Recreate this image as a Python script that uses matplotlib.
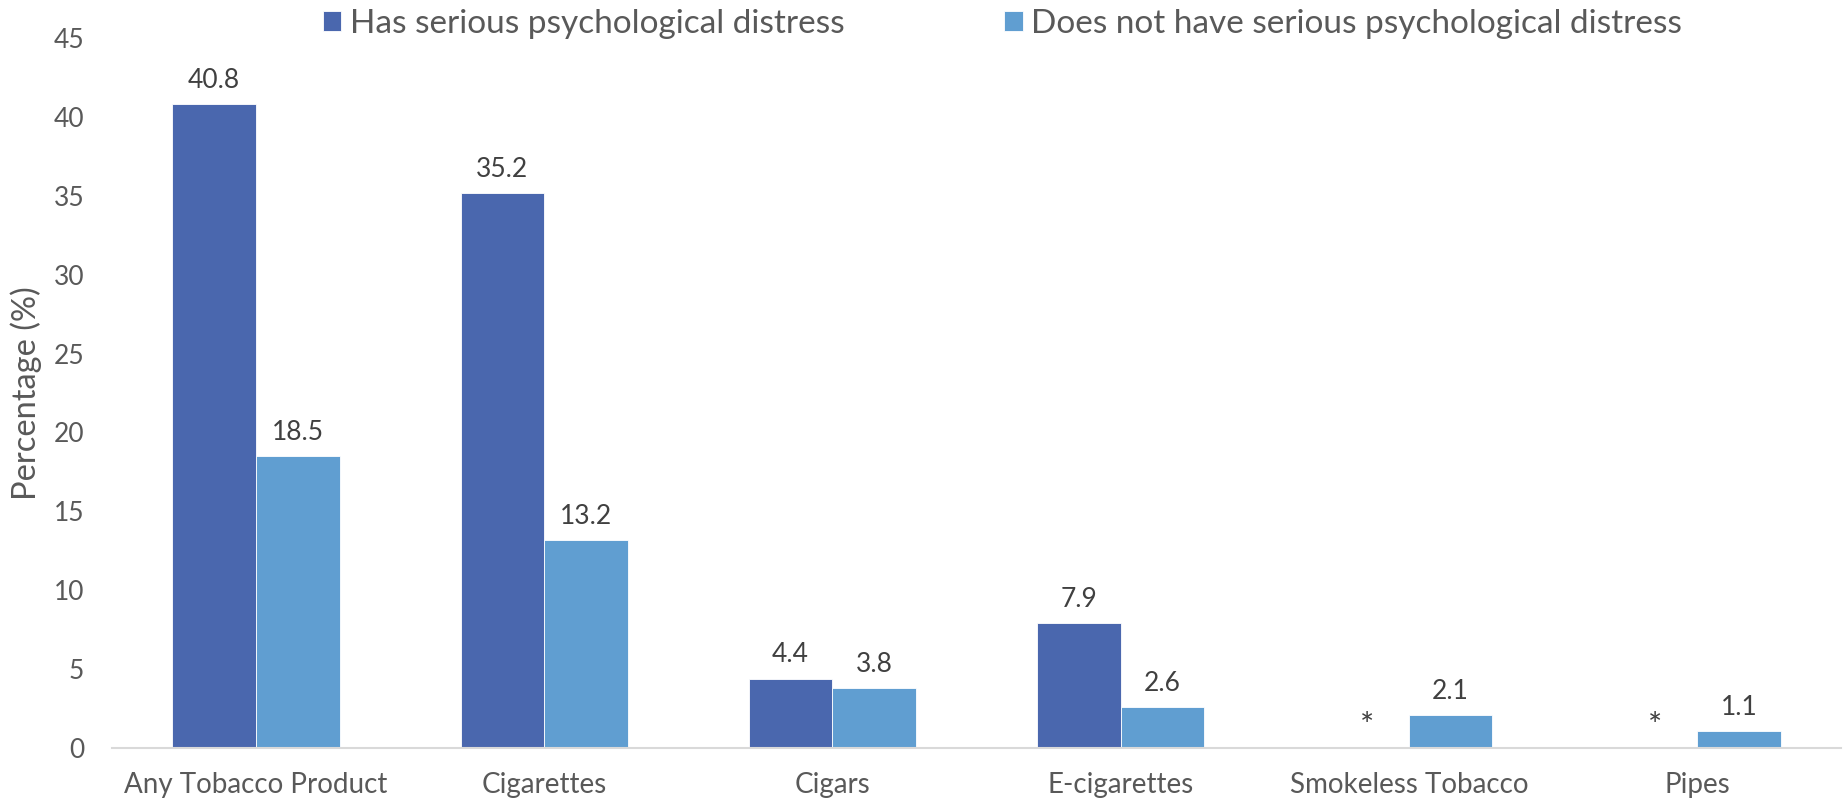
import numpy as np
import matplotlib
matplotlib.use("Agg")
import matplotlib.pyplot as plt

categories = ["Any Tobacco Product", "Cigarettes", "Cigars", "E-cigarettes",
              "Smokeless Tobacco", "Pipes"]
series_names = ["Has serious psychological distress",
                "Does not have serious psychological distress"]
# None = estimate suppressed (shown as *)
has_distress = [40.8, 35.2, 4.4, 7.9, None, None]
no_distress = [18.5, 13.2, 3.8, 2.6, 2.1, 1.1]
yticks = [0, 5, 10, 15, 20, 25, 30, 35, 40, 45]

colors = ["#4A67AE", "#609ED1"]
tick_color = "#595959"
label_color = "#404040"

plt.rcParams["font.family"] = ["Lato", "DejaVu Sans"]

fig = plt.figure(figsize=(18.47, 7.99), dpi=100)
ax = fig.add_axes([0.0606, 0.0638, 0.9362, 0.8886])

x = np.arange(len(categories))
w = 0.29

for i, (vals, col, name) in enumerate(zip([has_distress, no_distress], colors, series_names)):
    offs = (i - 0.5) * w
    heights = [v if v is not None else 0 for v in vals]
    ax.bar(x + offs, heights, width=w, color=col, label=name,
           edgecolor="white", linewidth=0.6)
    for xi, v in zip(x + offs, vals):
        if v is not None:
            ax.annotate(f"{v:.1f}", (xi, v), xytext=(0, 8),
                        textcoords="offset points", ha="center", va="bottom",
                        fontsize=19, color=label_color)
        else:
            ax.annotate("*", (xi, 0), xytext=(0, 4),
                        textcoords="offset points", ha="center", va="bottom",
                        fontsize=24, color=label_color)

ax.set_xlim(-0.5, len(categories) - 0.5)
ax.set_ylim(0, 45)
ax.set_yticks(yticks)
ax.set_xticks(x)
ax.set_xticklabels(categories)
ax.tick_params(axis="both", length=0, colors=tick_color)
ax.tick_params(axis="x", labelsize=20, pad=17)
ax.tick_params(axis="y", labelsize=19, pad=20)
for s in ["top", "right", "left"]:
    ax.spines[s].set_visible(False)
ax.spines["bottom"].set_color("#D9D9D9")
ax.spines["bottom"].set_linewidth(1.5)
ax.set_ylabel("Percentage (%)", fontsize=23.5, color=tick_color)
ax.yaxis.set_label_coords(-0.0497, 0.50)
ax.yaxis.label.set_verticalalignment("center")

leg = ax.legend(loc="center", bbox_to_anchor=(0.515, 1.02), bbox_transform=ax.transAxes,
                ncol=2, frameon=False, fontsize=24, handlelength=0.55, handleheight=0.55,
                handletextpad=0.25, columnspacing=4.8)
for t in leg.get_texts():
    t.set_color(tick_color)

fig.savefig("out.png", dpi=100)
